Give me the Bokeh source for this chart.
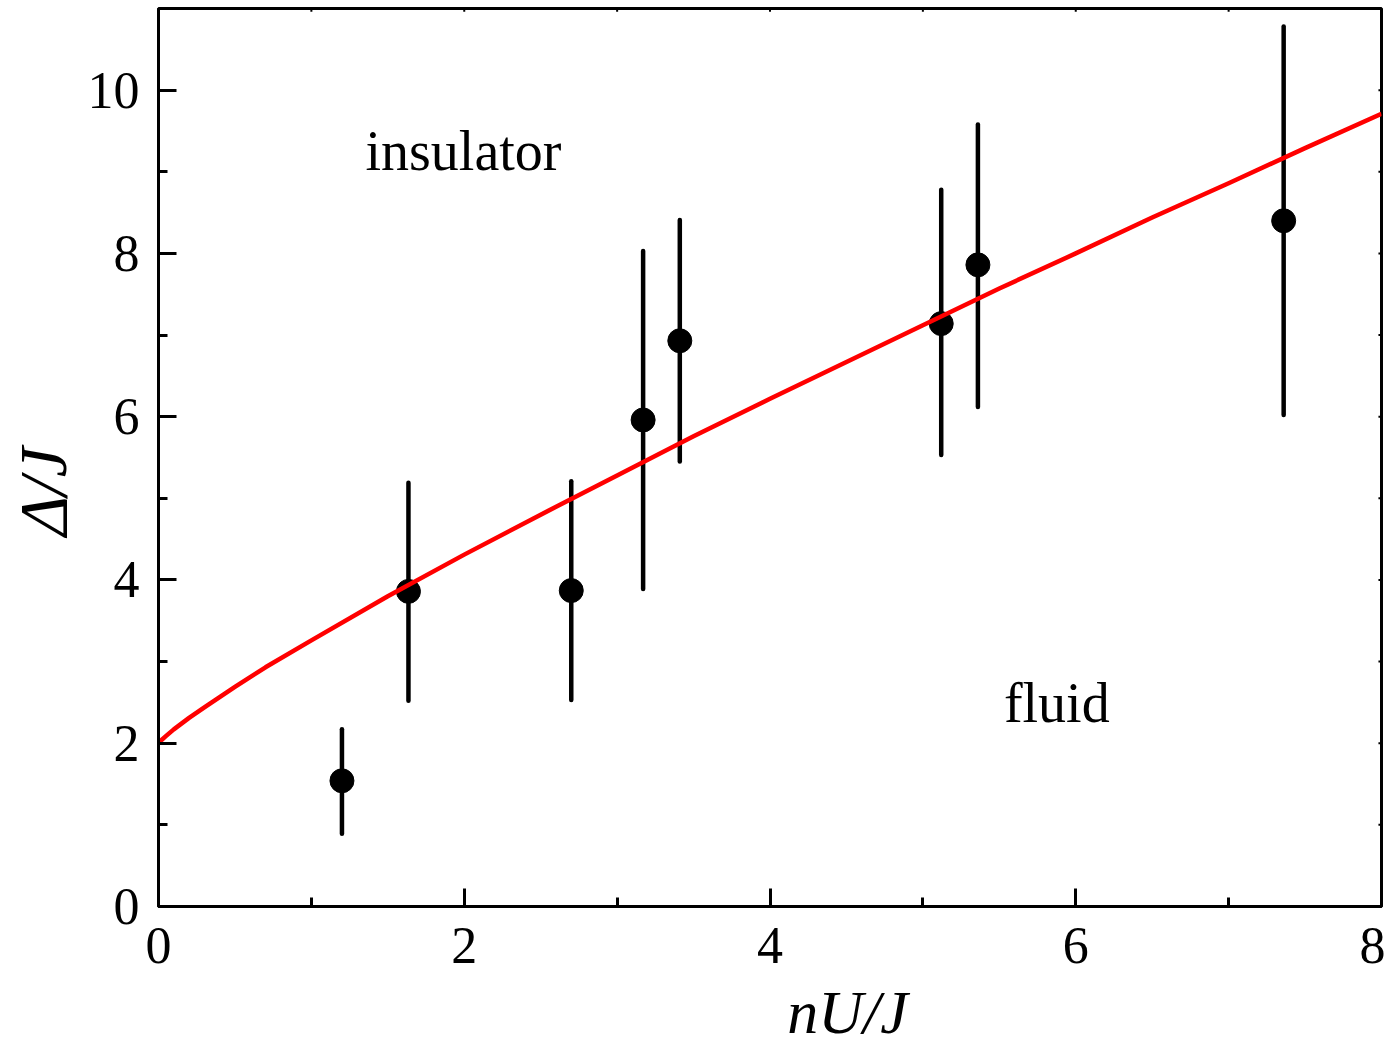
from bokeh.plotting import figure
from bokeh.models import Range1d, FixedTicker, Label
from bokeh.embed import file_html
from bokeh.resources import INLINE

# Data
nUJ = [1.20, 1.635, 2.70, 3.17, 3.41, 5.12, 5.36, 7.36]
gap = [1.54, 3.86, 3.87, 5.96, 6.93, 7.14, 7.86, 8.40]
gap_lo = [0.89, 2.52, 2.53, 3.89, 5.45, 5.53, 6.12, 6.02]
gap_hi = [2.17, 5.19, 5.21, 8.03, 8.41, 8.78, 9.58, 10.78]

curve_x = [0.0, 0.02, 0.05, 0.1, 0.2, 0.3, 0.5, 0.7, 1.0, 1.5, 2.0, 2.5, 3.0, 3.5, 4.0,
           4.5, 5.0, 5.5, 6.0, 6.5, 7.0, 7.5, 8.0]
curve_y = [2.0, 2.04, 2.09, 2.17, 2.31, 2.44, 2.69, 2.93, 3.26, 3.80, 4.31, 4.80, 5.28, 5.76, 6.22,
           6.67, 7.12, 7.57, 8.00, 8.44, 8.86, 9.29, 9.71]

x_major = [0, 2, 4, 6, 8]
x_minor = [1, 3, 5, 7]
y_major = [0, 2, 4, 6, 8, 10]
y_minor = [1, 3, 5, 7, 9]

x_title = "\u00a0" * 10 + "nU/J"
y_title = "\u0394/J" + "\u00a0" * 4

FONT = "Liberation Serif"

p = figure(width=1385, height=1049, output_backend="svg", toolbar_location=None,
           x_range=Range1d(0, 8), y_range=Range1d(0, 11),
           min_border_left=158, min_border_right=4, min_border_top=8, min_border_bottom=143)
p.background_fill_color = "white"
p.border_fill_color = "white"
p.grid.visible = False
p.outline_line_color = "black"
p.outline_line_width = 3

def style_axis(ax, ticks, minor):
    ax.ticker = FixedTicker(ticks=ticks, minor_ticks=minor)
    ax.axis_line_width = 3
    ax.axis_line_color = "black"
    ax.major_tick_line_width = 3
    ax.minor_tick_line_width = 3
    ax.major_tick_line_color = "black"
    ax.minor_tick_line_color = "black"
    ax.major_tick_out = 0
    ax.minor_tick_out = 0
    ax.major_tick_in = 18
    ax.minor_tick_in = 9
    ax.major_label_text_font = FONT
    ax.major_label_text_font_size = "52px"
    ax.major_label_text_color = "black"
    ax.axis_label_text_font = FONT
    ax.axis_label_text_font_style = "italic"
    ax.axis_label_text_color = "black"

xa = p.xaxis[0]
ya = p.yaxis[0]
style_axis(xa, x_major, x_minor)
style_axis(ya, y_major, y_minor)
xa.major_label_standoff = 21
ya.major_label_standoff = 19
xa.axis_label = x_title
xa.axis_label_text_font_size = "62px"
xa.axis_label_standoff = 12
ya.axis_label = y_title
ya.axis_label_text_font_size = "68px"
ya.axis_label_standoff = 4

# tiny ticks on the top and right edges of the frame (at the tick values)
top_ticks = x_major + x_minor
right_ticks = y_major + y_minor
p.segment(x0=top_ticks, y0=[11] * len(top_ticks), x1=top_ticks, y1=[10.96] * len(top_ticks),
          line_color="black", line_width=2)
p.segment(x0=[8] * len(right_ticks), y0=right_ticks, x1=[7.98] * len(right_ticks), y1=right_ticks,
          line_color="black", line_width=2)

# error bars and points
p.segment(x0=nUJ, y0=gap_lo, x1=nUJ, y1=gap_hi, line_color="black", line_width=4.5, line_cap="round")
p.scatter(x=nUJ, y=gap, size=24, fill_color="black", line_color="black")

# fitted boundary
p.line(x=curve_x, y=curve_y, line_color="#ff0000", line_width=4.5, line_join="round")

# region labels
p.add_layout(Label(x=1.354, y=9.25, text="insulator", text_font=FONT, text_font_size="56px",
                   text_color="black", text_baseline="alphabetic", text_align="left"))
p.add_layout(Label(x=5.53, y=2.49, text="fluid", text_font=FONT, text_font_size="56px",
                   text_color="black", text_baseline="alphabetic", text_align="left"))

open("out.html", "w").write(file_html(p, INLINE))
